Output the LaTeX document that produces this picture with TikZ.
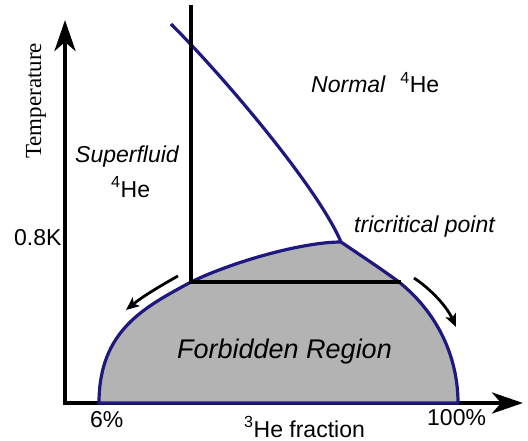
\documentclass[tikz,border=0pt]{standalone}
\usepackage{fontspec}
\setmainfont{Liberation Sans}
\newfontfamily\serifT{Liberation Serif}
\usetikzlibrary{arrows.meta}
\definecolor{navy}{RGB}{30,24,128}
\definecolor{forbid}{RGB}{179,179,179}
\begin{document}
\begin{tikzpicture}[x=1pt,y=-1pt,
  lbl/.style={inner sep=0pt,anchor=base west,font=\fontsize{23}{27}\selectfont},
  axis/.style={line width=4.2pt,{Stealth[length=31pt,width=21pt,inset=9pt]}-{Stealth[length=31pt,width=21pt,inset=9pt]}},
  blueline/.style={draw=navy,line width=3.2pt},
  blackline/.style={draw=black,line width=3.2pt},
  flowarrow/.style={line width=2.8pt,-{Stealth[length=13pt,width=11pt,inset=3pt]}}]
\useasboundingbox (0,0) rectangle (528,441);
% key points
\coordinate (O) at (65,403);
\coordinate (ytip) at (65,20);
\coordinate (xtip) at (523,403);
\coordinate (lamtop) at (171,24);
\coordinate (tcp) at (341,242);
\coordinate (vtop) at (191,7);
\coordinate (vbot) at (191,282);
\coordinate (hend) at (399,282);
\coordinate (left0) at (99,403);
\coordinate (right0) at (458,403);
\coordinate (la1) at (178,276);
\coordinate (la2) at (126,310);
\coordinate (ra1) at (414,278);
\coordinate (ra2) at (456,327);
% axes
\draw[axis] (ytip) -- (O) -- (xtip);
% forbidden region
\filldraw[fill=forbid,blueline] (left0) .. controls (99,330) and (145,307) .. (vbot)
  .. controls (232,262) and (302,242) .. (tcp)
  .. controls (360,255) and (380,268) .. (hend)
  .. controls (440,315) and (458,360) .. (right0) -- cycle;
% lambda line
\draw[blueline] (lamtop) .. controls (225,78) and (318,188) .. (tcp);
% tie line and vertical line
\draw[blackline,line cap=rect] (vtop) -- (vbot) -- (hend);
% flow arrows
\draw[flowarrow] (la1) .. controls (160,286) and (142,297) .. (la2);
\draw[flowarrow] (ra1) .. controls (432,290) and (447,307) .. (ra2);
% labels
\node[lbl,anchor=center,rotate=90,font=\serifT\fontsize{23}{27}\selectfont] (temp) at (36,101) {Temperature};
\node[lbl] (sf) at (75,163) {\itshape Superfluid};
\node[lbl] (sfhe) at (111,197) {\textsuperscript{4}He};
\node[lbl] (norm) at (311,93) {\itshape Normal\hspace{15pt}\upshape\textsuperscript{4}He};
\node[lbl] (tcpl) at (354,233) {\itshape tricritical point};
\node[lbl] (tk) at (14,245) {0.8K};
\node[lbl] (six) at (90,427) {6\%};
\node[lbl] (frac) at (244,437) {\textsuperscript{3}He fraction};
\node[lbl] (hund) at (427,425) {100\%};
\node[lbl,font=\fontsize{27}{31}\selectfont] (forb) at (177,358) {\itshape Forbidden Region};
\end{tikzpicture}
\end{document}
